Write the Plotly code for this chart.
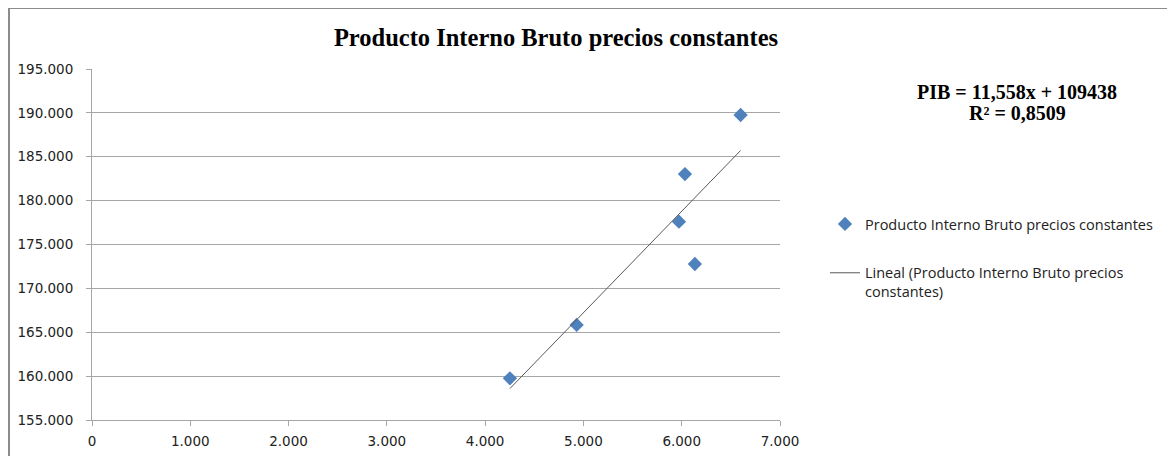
import plotly.graph_objects as go

# Data
x_vals = [4252, 4931, 5972, 6033, 6134, 6599]
y_vals = [159750, 165830, 177600, 183030, 172780, 189760]
series_name = "Producto Interno Bruto precios constantes"
trend_name = "Lineal (Producto Interno Bruto precios<br>constantes)"
slope = 11.558
intercept = 109438
eq_line1 = "PIB = 11,558x + 109438"
eq_line2 = "R² = 0,8509"
title_text = "Producto Interno Bruto precios constantes"

x_ticks = [0, 1000, 2000, 3000, 4000, 5000, 6000, 7000]
y_ticks = [155000, 160000, 165000, 170000, 175000, 180000, 185000, 190000, 195000]

tx = [min(x_vals), max(x_vals)]
ty = [slope * v + intercept for v in tx]

OFF = 8  # page body margin
WIN_W, WIN_H = 1175, 456
W, H = WIN_W - OFF, WIN_H - OFF
L, R, T, B = 92, 780, 69, 420  # plot area in window pixels

def px(xp):
    return (xp - L) / (R - L)

def py(yp):
    return (B - yp) / (B - T)

fig = go.Figure()
fig.add_trace(go.Scatter(
    x=x_vals, y=y_vals, mode="markers", name=series_name, legendgroup="a",
    marker=dict(symbol="diamond", size=11, color="#4F81BD"),
))
fig.add_trace(go.Scatter(
    x=tx, y=ty, mode="lines", name=trend_name, legendgroup="b",
    line=dict(color="#595959", width=1),
))

grid_c = "#A6A6A6"
tick_font = dict(family="DejaVu Sans", size=13.5, color="#222222")
fig.update_layout(
    width=W, height=H,
    margin=dict(l=L - OFF, r=WIN_W - R, t=T - OFF, b=WIN_H - B),
    paper_bgcolor="white", plot_bgcolor="white",
    separators=",.",
    title=dict(text="<b>" + title_text + "</b>", xref="container",
               x=(556 - OFF) / W, xanchor="center",
               y=1 - (37 - OFF) / H, yanchor="middle",
               font=dict(family="Liberation Serif", size=24.5, color="#000000")),
    showlegend=True,
    legend=dict(x=px(825), y=py(208), xanchor="left", yanchor="top",
                font=dict(family="Open Sans", size=14.5, color="#222222"),
                tracegroupgap=27, itemwidth=30, valign="top",
                bgcolor="rgba(0,0,0,0)"),
    xaxis=dict(range=[0, 7000], tickvals=x_ticks, tickformat=",.0f",
               showgrid=False, zeroline=False, showline=True, linecolor=grid_c,
               linewidth=1, ticks="outside", ticklen=5, tickcolor=grid_c,
               ticklabelstandoff=4, tickfont=tick_font, automargin=False),
    yaxis=dict(range=[155000, 195000], tickvals=y_ticks, tickformat=",.0f",
               showgrid=True, gridcolor=grid_c, gridwidth=1, zeroline=False,
               showline=True, linecolor=grid_c, linewidth=1,
               ticks="outside", ticklen=5, tickcolor=grid_c,
               ticklabelstandoff=10, tickfont=tick_font, automargin=False),
)

eq_font = dict(family="Liberation Serif", size=20, color="#000000")
fig.add_annotation(text="<b>" + eq_line1 + "</b>", xref="paper", yref="paper",
                   x=px(1017), y=py(92), xanchor="center", yanchor="middle",
                   showarrow=False, font=eq_font)
fig.add_annotation(text="<b>" + eq_line2 + "</b>", xref="paper", yref="paper",
                   x=px(1017), y=py(113), xanchor="center", yanchor="middle",
                   showarrow=False, font=eq_font)

# Chart outer border (top and left visible)
bx = px(OFF + 1)
by = py(OFF)
fig.add_shape(type="line", xref="paper", yref="paper", x0=bx, x1=px(WIN_W + 5), y0=by, y1=by,
              line=dict(color="#8C8C8C", width=2))
fig.add_shape(type="line", xref="paper", yref="paper", x0=bx, x1=bx, y0=by, y1=py(WIN_H + 5),
              line=dict(color="#8C8C8C", width=2))

fig.write_html("out.html")
